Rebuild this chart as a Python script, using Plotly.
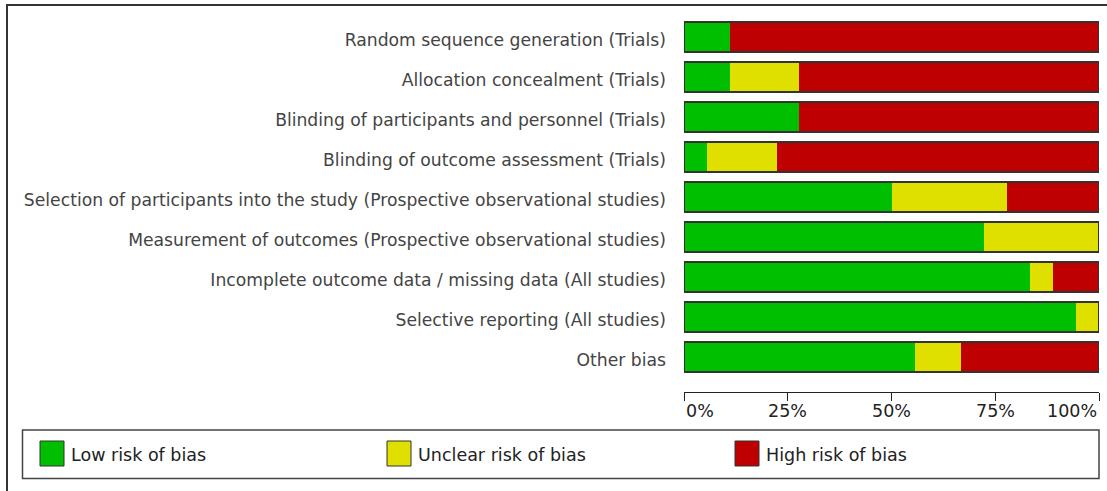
import plotly.graph_objects as go

# ---- data ----
domains = [
    "Random sequence generation (Trials)",
    "Allocation concealment (Trials)",
    "Blinding of participants and personnel (Trials)",
    "Blinding of outcome assessment (Trials)",
    "Selection of participants into the study (Prospective observational studies)",
    "Measurement of outcomes (Prospective observational studies)",
    "Incomplete outcome data / missing data (All studies)",
    "Selective reporting (All studies)",
    "Other bias",
]
low_risk = [11.1, 11.1, 27.8, 5.6, 50.0, 72.2, 83.3, 94.4, 55.6]
unclear_risk = [0.0, 16.7, 0.0, 16.7, 27.8, 27.8, 5.6, 5.6, 11.1]
high_risk = [88.9, 72.2, 72.2, 77.8, 22.2, 0.0, 11.1, 0.0, 33.3]
series_names = ["Low risk of bias", "Unclear risk of bias", "High risk of bias"]
series_colors = ["#00BF00", "#DFDF00", "#BF0000"]
x_ticks = [0, 25, 50, 75, 100]
x_tick_labels = ["0%", "25%", "50%", "75%", "100%"]

# ---- layout geometry (pixels) ----
W, H = 1107, 491
PL, PR = 684, 1099      # plot area left / right
PT, PB = 17, 392        # plot area top / bottom
FONT = "DejaVu Sans"

def px_x(p):
    return (p - PL) / (PR - PL)

def px_y(p):
    return (PB - p) / (PB - PT)

rows = list(range(len(domains)))
series = [low_risk, unclear_risk, high_risk]

fig = go.Figure()
base = [0.0] * len(domains)
for vals, name, col in zip(series, series_names, series_colors):
    fig.add_trace(go.Bar(
        y=rows, x=vals, base=list(base), orientation="h", name=name,
        marker=dict(color=col, line=dict(width=0)), width=0.76,
        showlegend=False, hoverinfo="x+name",
    ))
    base = [b + v for b, v in zip(base, vals)]

# outline of each whole bar
fig.add_trace(go.Bar(
    y=rows, x=base, base=[0] * len(domains), orientation="h",
    marker=dict(color="rgba(0,0,0,0)", line=dict(color="#333333", width=2)),
    width=0.76, showlegend=False, hoverinfo="skip",
))

# x tick labels as annotations (first left aligned, last right aligned)
annotations = []
for i, (t, lab) in enumerate(zip(x_ticks, x_tick_labels)):
    anchor = "left" if i == 0 else ("right" if i == len(x_ticks) - 1 else "center")
    annotations.append(dict(
        x=t, xref="x", y=px_y(411), yref="paper", text=lab, showarrow=False,
        xanchor=anchor, yanchor="middle", font=dict(family=FONT, size=17.5, color="#222222"),
    ))

shapes = []
# outer frame (only top & left visible)
shapes.append(dict(type="rect", xref="paper", yref="paper",
                   x0=px_x(7), x1=px_x(1120), y0=px_y(5), y1=px_y(510),
                   line=dict(color="#333333", width=2), layer="below"))
# legend box
shapes.append(dict(type="rect", xref="paper", yref="paper",
                   x0=px_x(22.5), x1=px_x(1099), y0=px_y(430), y1=px_y(478.5),
                   line=dict(color="#444444", width=1.5)))
legend_x = [40, 387, 735]
for lx, name, col in zip(legend_x, series_names, series_colors):
    shapes.append(dict(type="rect", xref="paper", yref="paper",
                       x0=px_x(lx), x1=px_x(lx + 24), y0=px_y(441), y1=px_y(466),
                       fillcolor=col, line=dict(color="#333333", width=1)))
    annotations.append(dict(
        x=px_x(lx + 29), xref="paper", y=px_y(455), yref="paper", text=name,
        showarrow=False, xanchor="left", yanchor="middle",
        font=dict(family=FONT, size=17.5, color="#222222"),
    ))

fig.update_layout(
    width=W, height=H,
    margin=dict(l=PL, r=W - PR, t=PT, b=H - PB, pad=0),
    paper_bgcolor="white", plot_bgcolor="white",
    barmode="overlay", bargap=0,
    showlegend=False,
    shapes=shapes, annotations=annotations,
    xaxis=dict(range=[0, 100], tickvals=x_ticks, ticktext=[""] * len(x_ticks),
               ticks="outside", ticklen=8, tickwidth=1, tickcolor="#222222",
               showline=True, linecolor="#222222", linewidth=1,
               showgrid=False, zeroline=False, fixedrange=True),
    yaxis=dict(range=[len(domains) - 1 + 0.875, -0.5], tickvals=rows, ticktext=domains,
               ticks="", showline=False, showgrid=False, zeroline=False,
               ticklabelstandoff=17, ticklabelshift=-3,
               tickfont=dict(family=FONT, size=17.2, color="#444444"), fixedrange=True),
)

fig.write_html("out.html", config={"displayModeBar": False},
               post_script="document.body.style.margin='0';document.body.style.overflow='hidden';")
